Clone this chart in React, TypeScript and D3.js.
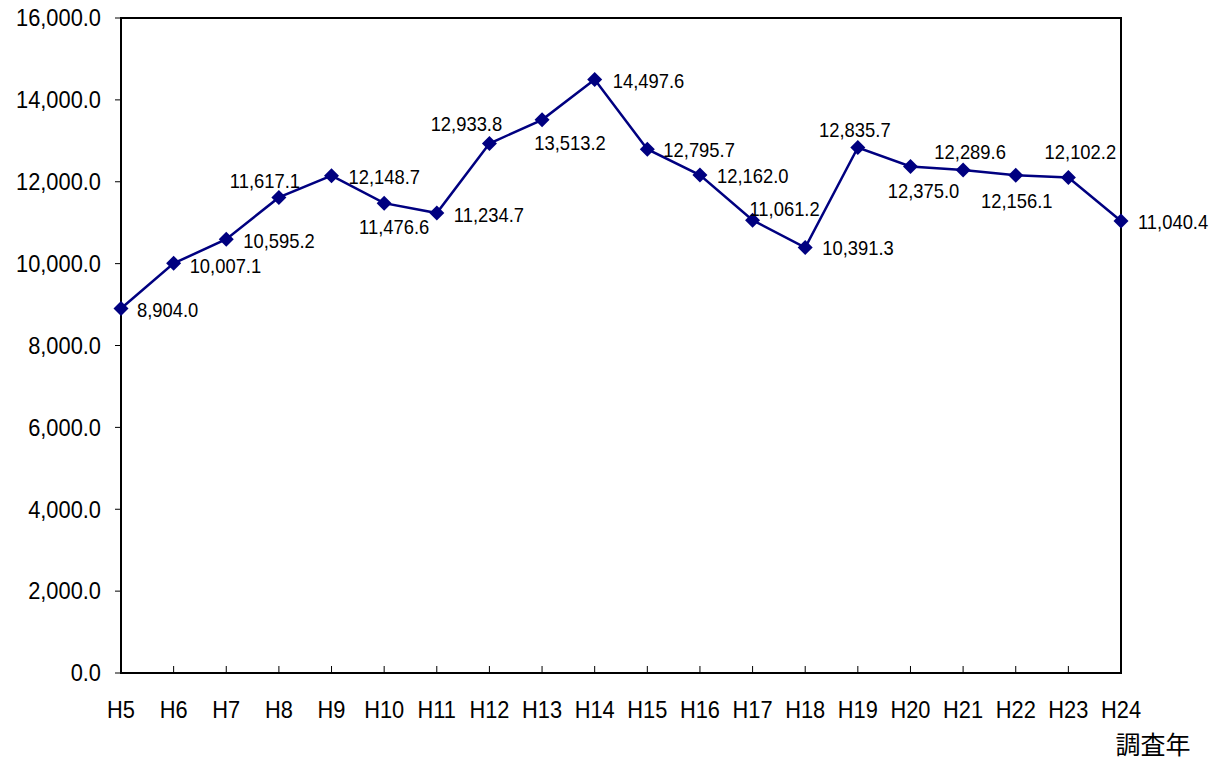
import React from "react";
import * as d3 from "d3";

const categories = ["H5","H6","H7","H8","H9","H10","H11","H12","H13","H14","H15","H16","H17","H18","H19","H20","H21","H22","H23","H24"];
const values = [8904.0,10007.1,10595.2,11617.1,12148.7,11476.6,11234.7,12933.8,13513.2,14497.6,12795.7,12162.0,11061.2,10391.3,12835.7,12375.0,12289.6,12156.1,12102.2,11040.4];
const yTicks = [0,2000,4000,6000,8000,10000,12000,14000,16000];
const xAxisTitle = "調査年";

// data-label placement relative to each marker: [anchor, dx, dy]
const labelOffsets: [string, number, number][] = [
  ["start", 16, 1], ["start", 16, 2], ["start", 17, 2], ["middle", -14, -17],
  ["start", 17, 1], ["middle", 10, 24], ["start", 17, 2], ["middle", -23, -20],
  ["middle", 28, 23], ["start", 18, 1], ["start", 16, 1], ["start", 17, 1],
  ["middle", 32, -11], ["start", 17, 0], ["middle", -3, -18], ["middle", 13, 24],
  ["middle", 7, -18], ["middle", 1, 25], ["middle", 12, -26], ["start", 17, 1],
];

const W = 1231, H = 765;
const margin = { left: 121, top: 18, right: 1121, bottom: 673 };

export default function App() {
  const x = d3.scalePoint<string>().domain(categories).range([margin.left, margin.right]);
  const y = d3.scaleLinear().domain([0, 16000]).range([margin.bottom, margin.top]);
  const line = d3.line<number>().x((_, i) => x(categories[i])!).y((d) => y(d));
  const fmt = d3.format(",.1f");
  const font = "Arial, 'Liberation Sans', sans-serif";

  return (
    <svg width={W} height={H} style={{ position: "absolute", left: 0, top: 0, background: "#fff" }} fontFamily={font}>
      {yTicks.map((t) => (
        <g key={t}>
          <line x1={margin.left - 6} x2={margin.left} y1={y(t)} y2={y(t)} stroke="#000" strokeWidth={1} />
          <text transform={`translate(101,${y(t)}) scale(0.95,1)`} dy="0.36em" textAnchor="end" fontSize={23} fill="#000">{fmt(t)}</text>
        </g>
      ))}
      {categories.map((c, i) => (
        <g key={c}>
          {i > 0 && i < categories.length - 1 && (
            <line x1={x(c)} x2={x(c)} y1={margin.bottom} y2={margin.bottom - 7} stroke="#000" strokeWidth={1} />
          )}
          <text transform={`translate(${x(c)},717.5) scale(0.95,1)`} textAnchor="middle" fontSize={23} fill="#000">{c}</text>
        </g>
      ))}
      <rect x={margin.left} y={margin.top} width={margin.right - margin.left} height={margin.bottom - margin.top} fill="none" stroke="#000" strokeWidth={2} />
      <path d={line(values) || ""} fill="none" stroke="#000080" strokeWidth={2.5} />
      {values.map((v, i) => {
        const px = x(categories[i])!, py = y(v);
        return <path key={i} d={`M${px},${py - 7.5}L${px + 7.5},${py}L${px},${py + 7.5}L${px - 7.5},${py}Z`} fill="#000080" />;
      })}
      {values.map((v, i) => {
        const px = x(categories[i])!, py = y(v);
        const [anchor, dx, dy] = labelOffsets[i];
        return (
          <text key={"l" + i} transform={`translate(${px + dx},${py + dy}) scale(0.92,1)`} dy="0.36em" textAnchor={anchor as any} fontSize={20} fill="#000">{fmt(v)}</text>
        );
      })}
      <text x={1153} y={754} textAnchor="middle" fontSize={25} fontFamily="'Noto Sans CJK JP', sans-serif" fill="#000">{xAxisTitle}</text>
    </svg>
  );
}
